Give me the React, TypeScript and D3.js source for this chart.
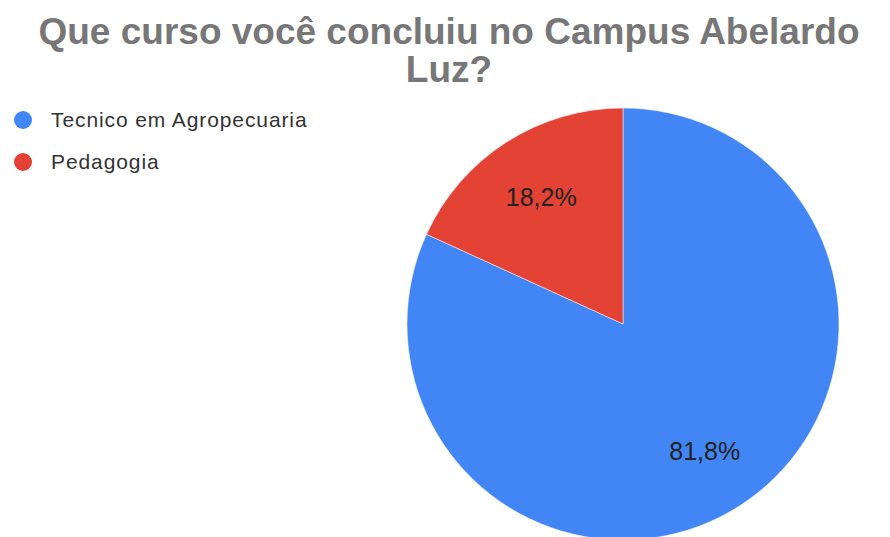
import React from "react";
import * as d3 from "d3";

const categories = ["Tecnico em Agropecuaria", "Pedagogia"];
const values = [9, 2];
const colors = ["#4285f4", "#e34234"];
const titleLines = ["Que curso você concluiu no Campus Abelardo", "Luz?"];

const W = 890;
const H = 537;

export default function App() {
  const cx = 623;
  const cy = 324;
  const r = 216;
  const total = d3.sum(values);
  const pie = d3.pie<number>().sort(null).value((d) => d);
  const arcs = pie(values);
  const arc = d3.arc<d3.PieArcDatum<number>>().innerRadius(0).outerRadius(r);
  const labelArc = d3.arc<d3.PieArcDatum<number>>().innerRadius(r * 0.7).outerRadius(r * 0.7);
  const fmt = (v: number) => (Math.round((v / total) * 1000) / 10).toFixed(1).replace(".", ",") + "%";

  return (
    <svg width={W} height={H} style={{ position: "absolute", left: 0, top: 0, background: "#fff" }}>
      <style>{`body{margin:0}`}</style>
      <g fontFamily="'Liberation Sans', Arial, sans-serif">
        {titleLines.map((t, i) => (
          <text key={i} x={449} y={44 + i * 38} textAnchor="middle" fontSize={37} fontWeight="bold" fill="#777">
            {t}
          </text>
        ))}
        {categories.map((c, i) => (
          <g key={c} transform={`translate(0, ${120 + i * 42})`}>
            <circle cx={23} cy={0} r={9} fill={colors[i]} />
            <text x={51} y={7} fontSize={21} letterSpacing={0.9} fill="#333">
              {c}
            </text>
          </g>
        ))}
        <g transform={`translate(${cx},${cy})`}>
          {arcs.map((a, i) => (
            <path key={i} d={arc(a) as string} fill={colors[i]} stroke="#fff" strokeWidth={0.5} />
          ))}
          {arcs.map((a, i) => {
            const [x, y] = labelArc.centroid(a);
            return (
              <text key={"l" + i} x={x} y={y + 9} textAnchor="middle" fontSize={25} fill="#222">
                {fmt(a.data)}
              </text>
            );
          })}
        </g>
      </g>
    </svg>
  );
}
